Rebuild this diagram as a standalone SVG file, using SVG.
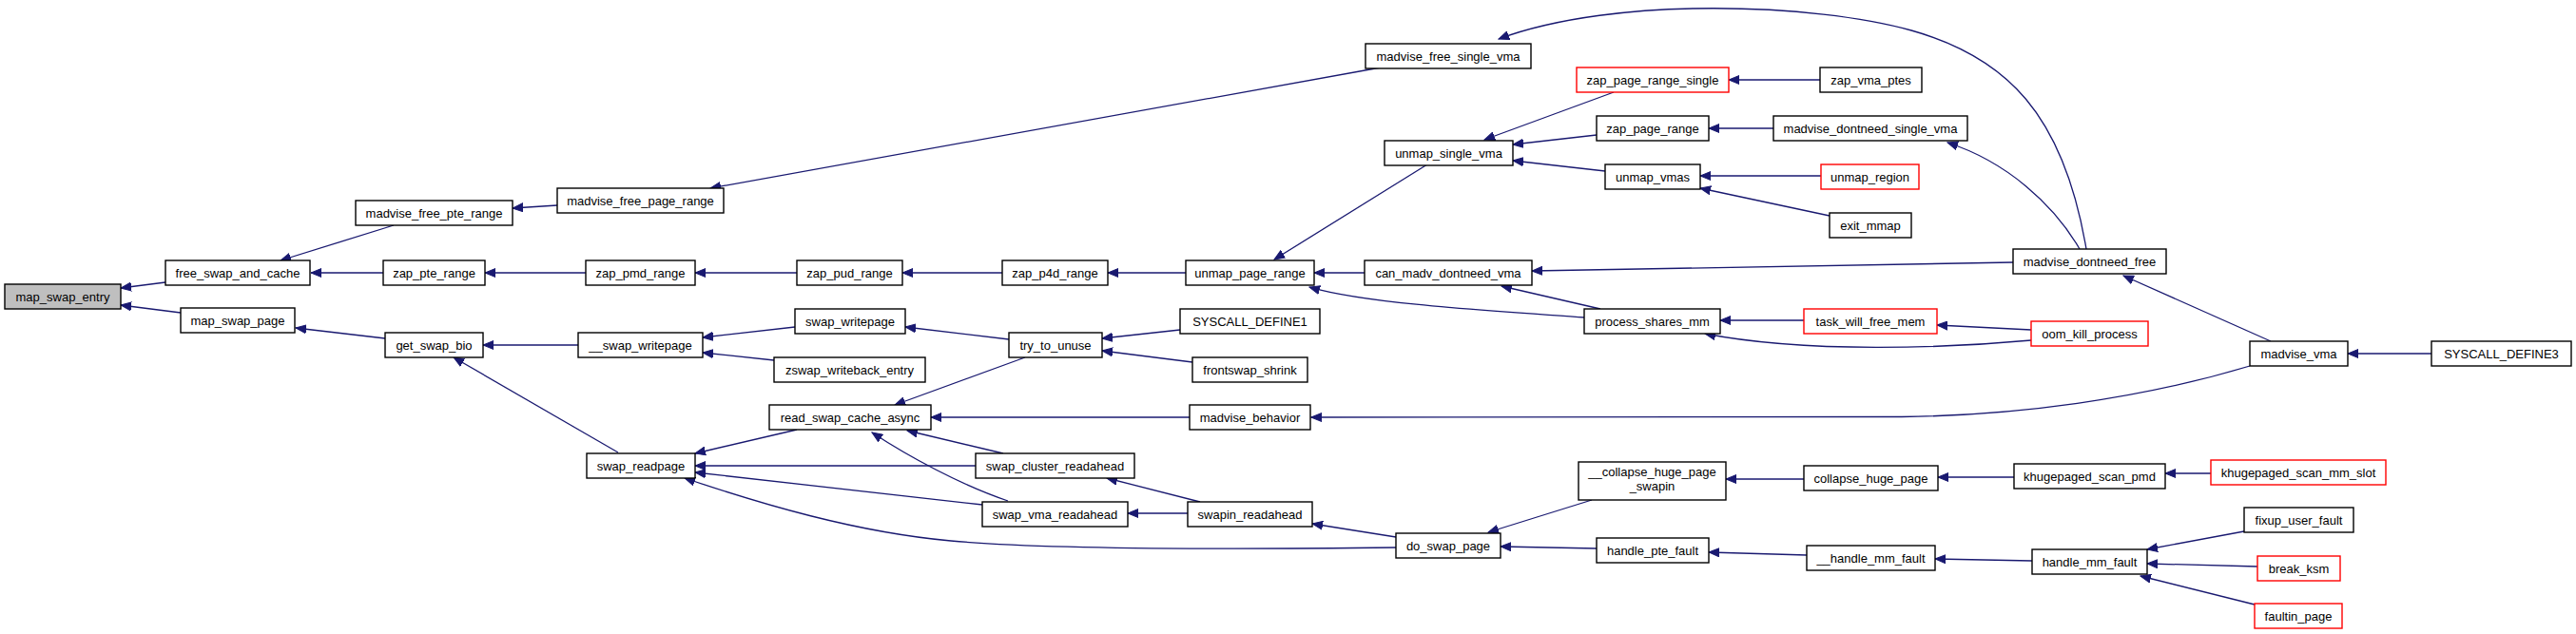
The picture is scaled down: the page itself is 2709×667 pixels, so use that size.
<svg xmlns="http://www.w3.org/2000/svg" width="2709" height="667" viewBox="0 0 2709 667">
<style>
.n rect{fill:#fff;stroke:#000;stroke-width:1.4}
.n.r rect{stroke:#ff0000}
.n.g rect{fill:#bfbfbf}
.n text{font-family:"Liberation Sans",Arial,sans-serif;font-size:13px;fill:#000;text-anchor:middle}
.e path{fill:none;stroke:#191970;stroke-width:1.3;marker-end:url(#a)}
</style>
<defs>
<marker id="a" markerWidth="12" markerHeight="10" refX="11" refY="5" orient="auto" markerUnits="userSpaceOnUse">
<path d="M0,0.5 L11,5 L0,9.5 z" fill="#191970" stroke="#191970" stroke-width="1"/>
</marker>
</defs>
<rect width="2709" height="667" fill="#fff"/>
<g id="edges" class="e">
<path d="M174,297 L127,303"/>
<path d="M190,329 L127,321"/>
<path d="M414,237 L295,274"/>
<path d="M403,287 L327,287"/>
<path d="M586,216 L539,219"/>
<path d="M616,287 L510,287"/>
<path d="M1452,71 L747,198"/>
<path d="M838,287 L731,287"/>
<path d="M1054,287 L949,287"/>
<path d="M1247,287 L1165,287"/>
<path d="M405,356 L311,345"/>
<path d="M608,363 L508,363"/>
<path d="M650,476 L477,376"/>
<path d="M836,344 L739,355"/>
<path d="M814,379 L739,371"/>
<path d="M1061,357 L952,344"/>
<path d="M1241,347 L1159,356"/>
<path d="M1254,381 L1159,369"/>
<path d="M1078,376 L941,426"/>
<path d="M1251,439 L979,439"/>
<path d="M838,452 L731,477"/>
<path d="M1026,490 L731,490"/>
<path d="M1033,531 L731,497"/>
<path d="M1468,576 C1300,578 1100,578 1000,569 C900,560 800,530 720,503"/>
<path d="M1055,477 L954,453"/>
<path d="M1060,527 C1010,510 955,480 917,455"/>
<path d="M1262,528 L1164,503"/>
<path d="M1249,540 L1186,540"/>
<path d="M1468,565 L1380,551"/>
<path d="M1674,526 L1565,560"/>
<path d="M1679,577 L1578,575"/>
<path d="M1897,504 L1815,504"/>
<path d="M1900,584 L1797,581"/>
<path d="M2118,502 L2038,502"/>
<path d="M2325,498 L2277,498"/>
<path d="M2137,590 L2035,588"/>
<path d="M2360,559 L2258,578"/>
<path d="M2374,596 L2258,593"/>
<path d="M2371,636 L2251,606"/>
<path d="M1501,173 L1340,273"/>
<path d="M1435,287 L1382,287"/>
<path d="M1667,334 C1570,327 1440,320 1377,302"/>
<path d="M1697,97 L1561,147"/>
<path d="M1679,142 L1591,152"/>
<path d="M1688,180 L1591,169"/>
<path d="M1914,84 L1818,84"/>
<path d="M1865,135 L1797,135"/>
<path d="M1915,185 L1788,185"/>
<path d="M1924,227 L1788,198"/>
<path d="M2117,276 L1611,285"/>
<path d="M1683,325 L1579,301"/>
<path d="M1897,337 L1809,337"/>
<path d="M2136,358 C2050,366 1900,372 1793,351"/>
<path d="M2136,347 L2037,342"/>
<path d="M2194,262 C2170,120 2110,60 2010,32 S1700,-5 1576,41"/>
<path d="M2187,262 C2160,215 2110,170 2048,150"/>
<path d="M2388,359 L2233,290"/>
<path d="M2366,385 C2250,420 2120,437 2000,438.5 L1379,439"/>
<path d="M2557,372 L2469,372"/>
</g>
<g id="map_swap_entry" class="n g"><rect x="5" y="299" width="122" height="26"/><text x="66" y="316.5">map_swap_entry</text></g>
<g id="free_swap_and_cache" class="n"><rect x="174" y="274" width="152" height="26"/><text x="250" y="291.5">free_swap_and_cache</text></g>
<g id="madvise_free_pte_range" class="n"><rect x="374" y="211" width="165" height="26"/><text x="456.5" y="228.5">madvise_free_pte_range</text></g>
<g id="zap_pte_range" class="n"><rect x="403" y="274" width="107" height="26"/><text x="456.5" y="291.5">zap_pte_range</text></g>
<g id="madvise_free_page_range" class="n"><rect x="586" y="198" width="175" height="26"/><text x="673.5" y="215.5">madvise_free_page_range</text></g>
<g id="zap_pmd_range" class="n"><rect x="616" y="274" width="115" height="26"/><text x="673.5" y="291.5">zap_pmd_range</text></g>
<g id="map_swap_page" class="n"><rect x="190" y="324" width="120" height="26"/><text x="250" y="341.5">map_swap_page</text></g>
<g id="get_swap_bio" class="n"><rect x="405" y="350" width="103" height="26"/><text x="456.5" y="367.5">get_swap_bio</text></g>
<g id="__swap_writepage" class="n"><rect x="608" y="350" width="131" height="26"/><text x="673.5" y="367.5">__swap_writepage</text></g>
<g id="swap_readpage" class="n"><rect x="617" y="477" width="114" height="26"/><text x="674" y="494.5">swap_readpage</text></g>
<g id="zap_pud_range" class="n"><rect x="838" y="274" width="111" height="26"/><text x="893.5" y="291.5">zap_pud_range</text></g>
<g id="zap_p4d_range" class="n"><rect x="1054" y="274" width="111" height="26"/><text x="1109.5" y="291.5">zap_p4d_range</text></g>
<g id="unmap_page_range" class="n"><rect x="1247" y="274" width="135" height="26"/><text x="1314.5" y="291.5">unmap_page_range</text></g>
<g id="swap_writepage" class="n"><rect x="836" y="325" width="116" height="26"/><text x="894" y="342.5">swap_writepage</text></g>
<g id="zswap_writeback_entry" class="n"><rect x="814" y="376" width="159" height="26"/><text x="893.5" y="393.5">zswap_writeback_entry</text></g>
<g id="try_to_unuse" class="n"><rect x="1061" y="350" width="98" height="26"/><text x="1110" y="367.5">try_to_unuse</text></g>
<g id="SYSCALL_DEFINE1" class="n"><rect x="1241" y="325" width="147" height="26"/><text x="1314.5" y="342.5">SYSCALL_DEFINE1</text></g>
<g id="frontswap_shrink" class="n"><rect x="1254" y="376" width="121" height="26"/><text x="1314.5" y="393.5">frontswap_shrink</text></g>
<g id="read_swap_cache_async" class="n"><rect x="809" y="426" width="170" height="26"/><text x="894" y="443.5">read_swap_cache_async</text></g>
<g id="madvise_behavior" class="n"><rect x="1251" y="426" width="127" height="26"/><text x="1314.5" y="443.5">madvise_behavior</text></g>
<g id="swap_cluster_readahead" class="n"><rect x="1026" y="477" width="167" height="26"/><text x="1109.5" y="494.5">swap_cluster_readahead</text></g>
<g id="swap_vma_readahead" class="n"><rect x="1033" y="528" width="153" height="26"/><text x="1109.5" y="545.5">swap_vma_readahead</text></g>
<g id="swapin_readahead" class="n"><rect x="1249" y="528" width="131" height="26"/><text x="1314.5" y="545.5">swapin_readahead</text></g>
<g id="madvise_free_single_vma" class="n"><rect x="1436" y="46" width="174" height="26"/><text x="1523" y="63.5">madvise_free_single_vma</text></g>
<g id="zap_page_range_single" class="n r"><rect x="1658" y="71" width="160" height="26"/><text x="1738" y="88.5">zap_page_range_single</text></g>
<g id="zap_vma_ptes" class="n"><rect x="1914" y="71" width="107" height="26"/><text x="1967.5" y="88.5">zap_vma_ptes</text></g>
<g id="zap_page_range" class="n"><rect x="1679" y="122" width="118" height="26"/><text x="1738" y="139.5">zap_page_range</text></g>
<g id="madvise_dontneed_single_vma" class="n"><rect x="1865" y="122" width="204" height="26"/><text x="1967" y="139.5">madvise_dontneed_single_vma</text></g>
<g id="unmap_single_vma" class="n"><rect x="1456" y="148" width="135" height="26"/><text x="1523.5" y="165.5">unmap_single_vma</text></g>
<g id="unmap_vmas" class="n"><rect x="1688" y="173" width="100" height="26"/><text x="1738" y="190.5">unmap_vmas</text></g>
<g id="unmap_region" class="n r"><rect x="1915" y="173" width="103" height="26"/><text x="1966.5" y="190.5">unmap_region</text></g>
<g id="exit_mmap" class="n"><rect x="1924" y="224" width="86" height="26"/><text x="1967" y="241.5">exit_mmap</text></g>
<g id="can_madv_dontneed_vma" class="n"><rect x="1435" y="274" width="176" height="26"/><text x="1523" y="291.5">can_madv_dontneed_vma</text></g>
<g id="process_shares_mm" class="n"><rect x="1666" y="325" width="143" height="26"/><text x="1737.5" y="342.5">process_shares_mm</text></g>
<g id="task_will_free_mem" class="n r"><rect x="1897" y="325" width="140" height="26"/><text x="1967" y="342.5">task_will_free_mem</text></g>
<g id="__collapse_huge_page_swapin" class="n"><rect x="1660" y="486" width="155" height="40"/><text x="1737.5" y="501">__collapse_huge_page</text><text x="1737.5" y="515.5">_swapin</text></g>
<g id="collapse_huge_page" class="n"><rect x="1897" y="490" width="141" height="26"/><text x="1967.5" y="507.5">collapse_huge_page</text></g>
<g id="do_swap_page" class="n"><rect x="1468" y="561" width="110" height="26"/><text x="1523" y="578.5">do_swap_page</text></g>
<g id="handle_pte_fault" class="n"><rect x="1679" y="566" width="118" height="26"/><text x="1738" y="583.5">handle_pte_fault</text></g>
<g id="__handle_mm_fault" class="n"><rect x="1900" y="574" width="135" height="26"/><text x="1967.5" y="591.5">__handle_mm_fault</text></g>
<g id="madvise_dontneed_free" class="n"><rect x="2117" y="262" width="161" height="26"/><text x="2197.5" y="279.5">madvise_dontneed_free</text></g>
<g id="oom_kill_process" class="n r"><rect x="2136" y="338" width="123" height="26"/><text x="2197.5" y="355.5">oom_kill_process</text></g>
<g id="madvise_vma" class="n"><rect x="2366" y="359" width="103" height="26"/><text x="2417.5" y="376.5">madvise_vma</text></g>
<g id="SYSCALL_DEFINE3" class="n"><rect x="2557" y="359" width="147" height="26"/><text x="2630.5" y="376.5">SYSCALL_DEFINE3</text></g>
<g id="khugepaged_scan_pmd" class="n"><rect x="2118" y="488" width="159" height="26"/><text x="2197.5" y="505.5">khugepaged_scan_pmd</text></g>
<g id="khugepaged_scan_mm_slot" class="n r"><rect x="2325" y="484" width="184" height="26"/><text x="2417" y="501.5">khugepaged_scan_mm_slot</text></g>
<g id="fixup_user_fault" class="n"><rect x="2360" y="534" width="115" height="26"/><text x="2417.5" y="551.5">fixup_user_fault</text></g>
<g id="handle_mm_fault" class="n"><rect x="2137" y="578" width="121" height="26"/><text x="2197.5" y="595.5">handle_mm_fault</text></g>
<g id="break_ksm" class="n r"><rect x="2374" y="585" width="87" height="26"/><text x="2417.5" y="602.5">break_ksm</text></g>
<g id="faultin_page" class="n r"><rect x="2371" y="635" width="92" height="26"/><text x="2417" y="652.5">faultin_page</text></g>
</svg>
